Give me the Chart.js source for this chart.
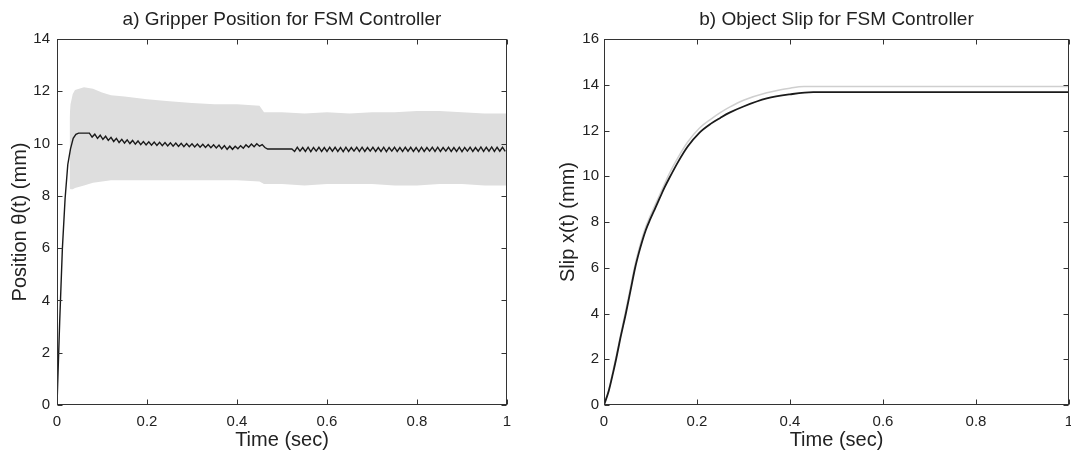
<!DOCTYPE html>
<html>
<head>
<meta charset="utf-8">
<script src="https://cdn.jsdelivr.net/npm/chart.js@4.4.1/dist/chart.umd.min.js"></script>
<style>
html,body{margin:0;padding:0;background:#fff;width:1071px;height:455px;overflow:hidden}
canvas{position:absolute;top:0}
#c1{left:0}
#c2{left:540px}
</style>
</head>
<body>
<canvas id="c1" width="540" height="455"></canvas>
<canvas id="c2" width="531" height="455"></canvas>
<script>
// ---------- data ----------
const xTicks = [0, 0.2, 0.4, 0.6, 0.8, 1];
const xTickLabels = ['0', '0.2', '0.4', '0.6', '0.8', '1'];
const yTicksA = [0, 2, 4, 6, 8, 10, 12, 14];
const yTicksB = [0, 2, 4, 6, 8, 10, 12, 14, 16];

// (a) gripper position, black trace sampled every posStep seconds
const posStep = 0.006;
const gripPos = [
  0, 3.2, 6.0, 7.9, 9.2, 9.8, 10.2, 10.35, 10.4, 10.4, 10.4, 10.4, 10.4,
  10.25, 10.36, 10.2, 10.32, 10.16, 10.28, 10.12, 10.24, 10.08, 10.2, 10.04, 10.16,
  10.02, 10.14, 10.0, 10.12, 9.98, 10.1, 9.96, 10.08, 9.95, 10.07, 9.94, 10.06,
  9.93, 10.05, 9.92, 10.04, 9.91, 10.03, 9.9, 10.02, 9.89, 10.01, 9.88, 10.0,
  9.88, 9.99, 9.87, 9.98, 9.86, 9.97, 9.85, 9.96, 9.84, 9.95, 9.83, 9.94,
  9.8, 9.92, 9.78, 9.9, 9.78, 9.9, 9.8, 9.92, 9.82, 9.95, 9.86, 9.98,
  9.88, 9.99, 9.9, 9.96, 9.85, 9.79,
  9.79, 9.79, 9.79, 9.79, 9.79, 9.79, 9.79, 9.79, 9.79,
  9.70, 9.86, 9.71, 9.85, 9.70, 9.86, 9.69, 9.85, 9.71, 9.86, 9.70, 9.85, 9.70, 9.86,
  9.71, 9.86, 9.70, 9.85, 9.69, 9.86, 9.70, 9.85, 9.71, 9.86, 9.70, 9.86, 9.70, 9.85,
  9.71, 9.86, 9.70, 9.85, 9.70, 9.86, 9.69, 9.85, 9.71, 9.86, 9.70, 9.85, 9.70, 9.86,
  9.71, 9.86, 9.70, 9.85, 9.69, 9.86, 9.70, 9.85, 9.71, 9.86, 9.70, 9.86, 9.70, 9.85,
  9.71, 9.86, 9.70, 9.85, 9.70, 9.86, 9.69, 9.85, 9.71, 9.86, 9.70, 9.85, 9.71, 9.87,
  9.70, 9.86, 9.71, 9.87, 9.70, 9.86, 9.71, 9.86, 9.70
];

// (a) grey oscillation envelope
const bandT = [0.028, 0.03, 0.035, 0.04, 0.06, 0.08, 0.1, 0.12, 0.15, 0.2, 0.25, 0.3, 0.35, 0.4, 0.45, 0.46, 0.5, 0.55, 0.6, 0.65, 0.7, 0.75, 0.8, 0.85, 0.9, 0.95, 1.0];
const bandUpper = [11.0, 11.5, 11.9, 12.05, 12.15, 12.1, 11.95, 11.85, 11.8, 11.7, 11.62, 11.55, 11.5, 11.5, 11.45, 11.2, 11.2, 11.15, 11.2, 11.15, 11.2, 11.2, 11.25, 11.25, 11.2, 11.15, 11.15];
const bandLower = [8.3, 8.25, 8.25, 8.3, 8.4, 8.5, 8.55, 8.6, 8.6, 8.6, 8.6, 8.6, 8.6, 8.6, 8.55, 8.45, 8.45, 8.4, 8.45, 8.45, 8.45, 8.4, 8.4, 8.45, 8.45, 8.4, 8.4];

// (b) object slip
const slipT = [0, 0.01, 0.02, 0.026, 0.035, 0.047, 0.057, 0.067, 0.075, 0.082, 0.09, 0.099, 0.11, 0.12, 0.13, 0.14, 0.16, 0.18, 0.205, 0.23, 0.25, 0.27, 0.3, 0.35, 0.4, 0.45, 1.0];
const slipBlack = [0, 0.6, 1.45, 2.0, 2.9, 4.0, 5.0, 6.0, 6.65, 7.15, 7.65, 8.1, 8.6, 9.05, 9.5, 9.9, 10.65, 11.3, 11.9, 12.3, 12.55, 12.78, 13.05, 13.4, 13.58, 13.68, 13.68];
const slipGreyT = [0, 0.01, 0.02, 0.026, 0.035, 0.047, 0.057, 0.067, 0.075, 0.082, 0.09, 0.099, 0.11, 0.12, 0.13, 0.14, 0.16, 0.18, 0.205, 0.23, 0.25, 0.27, 0.3, 0.35, 0.4, 0.43, 1.0];
const slipGrey = [0, 0.65, 1.55, 2.1, 3.0, 4.15, 5.15, 6.15, 6.8, 7.3, 7.8, 8.25, 8.75, 9.2, 9.65, 10.1, 10.85, 11.5, 12.1, 12.5, 12.78, 13.02, 13.32, 13.65, 13.85, 13.92, 13.92];

// ---------- helpers ----------
const FONT = "'Liberation Sans', Arial, Helvetica, sans-serif";
const pts = (xs, ys) => xs.map((x, i) => ({x, y: ys[i]}));
const gripPts = gripPos.map((v, i) => ({x: +(i * posStep).toFixed(3), y: v}));

const framePlugin = {
  id: 'frame',
  afterDatasetsDraw(chart) {
    const {ctx, chartArea: a, scales} = chart;
    const L = Math.round(a.left) + 0.5, R = Math.round(a.right) - 0.5;
    const T = Math.round(a.top) + 0.5, B = Math.round(a.bottom) - 0.5;
    ctx.save();
    ctx.strokeStyle = '#333';
    ctx.lineWidth = 1;
    ctx.strokeRect(L, T, R - L, B - T);
    ctx.beginPath();
    scales.x.ticks.forEach(t => {
      const p = Math.round(scales.x.getPixelForValue(t.value)) + 0.5;
      ctx.moveTo(p, B); ctx.lineTo(p, B - 5);
      ctx.moveTo(p, T); ctx.lineTo(p, T + 5);
    });
    scales.y.ticks.forEach(t => {
      const p = Math.round(scales.y.getPixelForValue(t.value)) + 0.5;
      ctx.moveTo(L, p); ctx.lineTo(L + 5, p);
      ctx.moveTo(R, p); ctx.lineTo(R - 5, p);
    });
    ctx.stroke();
    ctx.restore();
  }
};

function makeOptions(title, yTitle, yMax, yTicks, yWidth, padRight, yTitlePad, yTickPad) {
  return {
    responsive: false,
    animation: false,
    devicePixelRatio: 1,
    layout: {padding: {left: 0, right: padRight, top: 0, bottom: 0}},
    plugins: {
      legend: {display: false},
      tooltip: {enabled: false},
      title: {
        display: true, text: title, fullSize: false,
        color: '#222', font: {family: FONT, size: 19, weight: 'normal', lineHeight: 1.2},
        padding: {top: 8, bottom: 8.2}
      }
    },
    scales: {
      x: {
        type: 'linear', min: 0, max: 1,
        afterBuildTicks: s => { s.ticks = xTicks.map(v => ({value: v})); },
        ticks: {
          callback: (v) => xTickLabels[xTicks.indexOf(+v.toFixed(1))] ?? '',
          color: '#222', font: {family: FONT, size: 15}, padding: 8, maxRotation: 0, autoSkip: false
        },
        grid: {display: false, drawTicks: false},
        border: {display: false},
        title: {display: true, text: 'Time (sec)', color: '#222', font: {family: FONT, size: 20, lineHeight: 1.2}, padding: {top: 0, bottom: 3}},
        afterFit: s => { s.height = 50; s.paddingLeft = 0; s.paddingRight = 0; }
      },
      y: {
        type: 'linear', min: 0, max: yMax,
        afterBuildTicks: s => { s.ticks = yTicks.map(v => ({value: v})); },
        ticks: {color: '#222', font: {family: FONT, size: 15}, padding: yTickPad, autoSkip: false},
        grid: {display: false, drawTicks: false},
        border: {display: false},
        title: {display: true, text: yTitle, color: '#222', font: {family: FONT, size: 20, lineHeight: 1.2}, padding: {top: yTitlePad, bottom: 0}},
        afterFit: s => { s.width = yWidth; s.paddingTop = 0; s.paddingBottom = 0; }
      }
    }
  };
}

new Chart(document.getElementById('c1'), {
  type: 'line',
  data: {
    datasets: [
      {data: gripPts, borderColor: '#1a1a1a', borderWidth: 1.4, pointRadius: 0, tension: 0, fill: false, order: 0},
      {data: pts(bandT, bandUpper), borderColor: 'rgba(0,0,0,0)', borderWidth: 0, backgroundColor: '#dedede', pointRadius: 0, fill: '+1', order: 1},
      {data: pts(bandT, bandLower), borderColor: 'rgba(0,0,0,0)', borderWidth: 0, pointRadius: 0, fill: false, order: 1}
    ]
  },
  options: makeOptions('a) Gripper Position for FSM Controller', 'Position \u03b8(t) (mm)', 14, yTicksA, 57, 33, 8, 7),
  plugins: [framePlugin]
});

new Chart(document.getElementById('c2'), {
  type: 'line',
  data: {
    datasets: [
      {data: pts(slipT, slipBlack), borderColor: '#1a1a1a', borderWidth: 1.8, pointRadius: 0, cubicInterpolationMode: 'monotone', fill: false, order: 0},
      {data: pts(slipGreyT, slipGrey), borderColor: '#cfcfcf', borderWidth: 1.5, pointRadius: 0, cubicInterpolationMode: 'monotone', fill: false, order: 1}
    ]
  },
  options: makeOptions('b) Object Slip for FSM Controller', 'Slip x(t) (mm)', 16, yTicksB, 64, 2, 16, 5),
  plugins: [framePlugin]
});
</script>
</body>
</html>
